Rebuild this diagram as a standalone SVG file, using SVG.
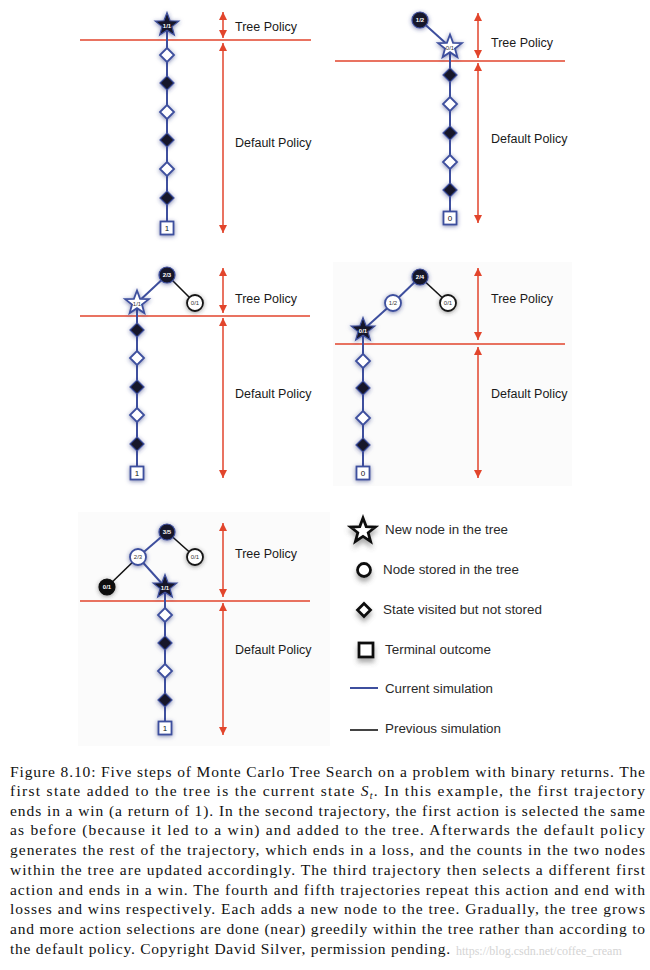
<svg xmlns="http://www.w3.org/2000/svg" width="650" height="970" viewBox="0 0 650 970">
<style>
.blue{stroke:#3e4f9e;stroke-width:2;fill:none}
.blk{stroke:#141414;stroke-width:1.6;fill:none}
.red{stroke:#e2452c;stroke-width:1.5;fill:none}
.redarr{stroke:#e2452c;stroke-width:1.5;fill:none;marker-start:url(#ah);marker-end:url(#ah)}
.nb{fill:#15152a;stroke:#3e4f9e;stroke-width:1.2;filter:url(#glow)}
.nk{fill:#111;stroke:#111;stroke-width:1.2;filter:url(#gglow)}
.nw{fill:#fff;stroke:#3e4f9e;stroke-width:1.8;filter:url(#glow)}
.nwk{fill:#fff;stroke:#141414;stroke-width:1.8;filter:url(#gglow)}
.lw{font-family:"Liberation Sans",Arial,sans-serif;font-size:6px;font-weight:bold;fill:#fff;text-anchor:middle}
.ld{font-family:"Liberation Sans",Arial,sans-serif;font-size:6px;fill:#333;text-anchor:middle}
.sq{font-family:"Liberation Sans",Arial,sans-serif;font-size:8px;fill:#111;text-anchor:middle}
.pol{font-family:"Liberation Sans",Arial,sans-serif;font-size:12.5px;fill:#1a1a1a}
.leg{font-family:"Liberation Sans",Arial,sans-serif;font-size:12.5px;fill:#2a2a2a}
.ls{fill:#fff;stroke:#111;stroke-width:2.8;filter:url(#lsh)}
.cap{font-family:"Liberation Serif","Times New Roman",serif;font-size:15.5px;fill:#111}
.wm{font-family:"Liberation Serif","Times New Roman",serif;font-size:12px;fill:#d4d4d4}
</style>
<defs>
<filter id="glow" x="-60%" y="-60%" width="220%" height="220%">
<feGaussianBlur in="SourceAlpha" stdDeviation="2"/>
<feOffset dy="1.2" result="b"/>
<feFlood flood-color="#2a3580" flood-opacity="0.6"/>
<feComposite in2="b" operator="in"/>
<feMerge><feMergeNode/><feMergeNode in="SourceGraphic"/></feMerge>
</filter>
<filter id="gglow" x="-60%" y="-60%" width="220%" height="220%">
<feGaussianBlur in="SourceAlpha" stdDeviation="2"/>
<feOffset dy="1.2" result="b"/>
<feFlood flood-color="#333" flood-opacity="0.5"/>
<feComposite in2="b" operator="in"/>
<feMerge><feMergeNode/><feMergeNode in="SourceGraphic"/></feMerge>
</filter>
<filter id="lsh" x="-80%" y="-80%" width="260%" height="300%">
<feGaussianBlur in="SourceAlpha" stdDeviation="2.5"/>
<feOffset dy="4" result="b"/>
<feFlood flood-color="#555" flood-opacity="0.5"/>
<feComposite in2="b" operator="in"/>
<feMerge><feMergeNode/><feMergeNode in="SourceGraphic"/></feMerge>
</filter>
<marker id="ah" viewBox="0 0 10 10" refX="10" refY="5" markerWidth="8" markerHeight="8" markerUnits="userSpaceOnUse" orient="auto-start-reverse">
<path d="M0,0 L10,5 L0,10 z" fill="#e2452c"/>
</marker>
<polygon id="star" points="0,-12.5 3.06,-4.21 11.89,-3.86 4.95,1.61 7.35,10.11 0,5.2 -7.35,10.11 -4.95,1.61 -11.89,-3.86 -3.06,-4.21"/>
<polygon id="lstar" points="0,-13 3.2,-4.4 12.4,-4 5.2,1.7 7.6,10.5 0,5.4 -7.6,10.5 -5.2,1.7 -12.4,-4 -3.2,-4.4"/>
<polygon id="dia" points="0,-7 7,0 0,7 -7,0"/>
<rect id="sqr" x="-6.5" y="-6.5" width="13" height="13"/>
</defs>
<rect width="650" height="970" fill="#fff"/>
<rect x="333" y="262" width="239" height="224" fill="#fbfbfb"/>
<rect x="78" y="512" width="252" height="234" fill="#fbfbfb"/>

<g id="policy-markers">
<line class="red" x1="80" y1="40" x2="311" y2="40"/>
<line class="redarr" x1="223" y1="12" x2="223" y2="38"/>
<line class="redarr" x1="223" y1="43" x2="223" y2="233"/>
<text class="pol" x="235" y="31">Tree Policy</text>
<text class="pol" x="235" y="147">Default Policy</text>

<line class="red" x1="335" y1="61" x2="565" y2="61"/>
<line class="redarr" x1="478" y1="13" x2="478" y2="58"/>
<line class="redarr" x1="478" y1="63" x2="478" y2="223"/>
<text class="pol" x="491" y="47">Tree Policy</text>
<text class="pol" x="491" y="143">Default Policy</text>

<line class="red" x1="80" y1="316" x2="310" y2="316"/>
<line class="redarr" x1="223" y1="268" x2="223" y2="313"/>
<line class="redarr" x1="223" y1="318" x2="223" y2="478"/>
<text class="pol" x="235" y="303">Tree Policy</text>
<text class="pol" x="235" y="398">Default Policy</text>

<line class="red" x1="335" y1="344" x2="565" y2="344"/>
<line class="redarr" x1="478" y1="268" x2="478" y2="340"/>
<line class="redarr" x1="478" y1="347" x2="478" y2="478"/>
<text class="pol" x="491" y="303">Tree Policy</text>
<text class="pol" x="491" y="398">Default Policy</text>

<line class="red" x1="80" y1="601" x2="310" y2="601"/>
<line class="redarr" x1="223" y1="523" x2="223" y2="597"/>
<line class="redarr" x1="223" y1="603" x2="223" y2="735"/>
<text class="pol" x="235" y="558">Tree Policy</text>
<text class="pol" x="235" y="654">Default Policy</text>
</g>

<g id="connectors">
<line class="blue" x1="167" y1="25" x2="167" y2="228"/>
<line class="blue" x1="420" y1="20" x2="450" y2="47"/>
<line class="blue" x1="450" y1="47" x2="450" y2="218"/>
<line class="blue" x1="167" y1="275" x2="137" y2="303"/>
<line class="blk" x1="167" y1="275" x2="195" y2="303"/>
<line class="blue" x1="137" y1="303" x2="137" y2="473"/>
<line class="blue" x1="420" y1="277" x2="393" y2="303"/>
<line class="blue" x1="393" y1="303" x2="363" y2="330"/>
<line class="blk" x1="420" y1="277" x2="448" y2="303"/>
<line class="blue" x1="363" y1="330" x2="363" y2="473"/>
<line class="blue" x1="167" y1="532" x2="138" y2="557"/>
<line class="blk" x1="167" y1="532" x2="195" y2="557"/>
<line class="blk" x1="138" y1="557" x2="107" y2="587"/>
<line class="blue" x1="138" y1="557" x2="165" y2="587"/>
<line class="blue" x1="165" y1="587" x2="165" y2="728"/>
</g>

<g id="p1-star"><use href="#star" class="nb" x="167" y="25"/><text class="lw" x="167" y="28">1/1</text></g>
<g id="p1-d1"><use href="#dia" class="nw" x="167" y="55"/></g>
<g id="p1-d2"><use href="#dia" class="nb" x="167" y="83"/></g>
<g id="p1-d3"><use href="#dia" class="nw" x="167" y="112"/></g>
<g id="p1-d4"><use href="#dia" class="nb" x="167" y="140"/></g>
<g id="p1-d5"><use href="#dia" class="nw" x="167" y="169"/></g>
<g id="p1-d6"><use href="#dia" class="nb" x="167" y="198"/></g>
<g id="p1-term"><use href="#sqr" class="nw" x="167" y="228"/><text class="sq" x="167" y="231">1</text></g>

<g id="p2-root"><circle class="nb" cx="420" cy="20" r="8"/><text class="lw" x="420" y="22">1/2</text></g>
<g id="p2-star"><use href="#star" class="nw" x="450" y="47"/><text class="ld" x="450" y="50">0/1</text></g>
<g id="p2-d1"><use href="#dia" class="nb" x="450" y="75"/></g>
<g id="p2-d2"><use href="#dia" class="nw" x="450" y="104"/></g>
<g id="p2-d3"><use href="#dia" class="nb" x="450" y="133"/></g>
<g id="p2-d4"><use href="#dia" class="nw" x="450" y="162"/></g>
<g id="p2-d5"><use href="#dia" class="nb" x="450" y="190"/></g>
<g id="p2-term"><use href="#sqr" class="nw" x="450" y="218"/><text class="sq" x="450" y="221">0</text></g>

<g id="p3-root"><circle class="nb" cx="167" cy="275" r="8"/><text class="lw" x="167" y="277">2/3</text></g>
<g id="p3-star"><use href="#star" class="nw" x="137" y="303"/><text class="ld" x="137" y="306">1/1</text></g>
<g id="p3-right"><circle class="nwk" cx="195" cy="303" r="8"/><text class="ld" x="195" y="305">0/1</text></g>
<g id="p3-d1"><use href="#dia" class="nb" x="137" y="330"/></g>
<g id="p3-d2"><use href="#dia" class="nw" x="137" y="358"/></g>
<g id="p3-d3"><use href="#dia" class="nb" x="137" y="387"/></g>
<g id="p3-d4"><use href="#dia" class="nw" x="137" y="415"/></g>
<g id="p3-d5"><use href="#dia" class="nb" x="137" y="444"/></g>
<g id="p3-term"><use href="#sqr" class="nw" x="137" y="473"/><text class="sq" x="137" y="476">1</text></g>

<g id="p4-root"><circle class="nb" cx="420" cy="277" r="8"/><text class="lw" x="420" y="279">2/4</text></g>
<g id="p4-left"><circle class="nw" cx="393" cy="303" r="8"/><text class="ld" x="393" y="305">1/2</text></g>
<g id="p4-right"><circle class="nwk" cx="448" cy="303" r="8"/><text class="ld" x="448" y="305">0/1</text></g>
<g id="p4-star"><use href="#star" class="nb" x="363" y="330"/><text class="lw" x="363" y="333">0/1</text></g>
<g id="p4-d1"><use href="#dia" class="nw" x="363" y="361"/></g>
<g id="p4-d2"><use href="#dia" class="nb" x="363" y="388"/></g>
<g id="p4-d3"><use href="#dia" class="nw" x="363" y="418"/></g>
<g id="p4-d4"><use href="#dia" class="nb" x="363" y="445"/></g>
<g id="p4-term"><use href="#sqr" class="nw" x="363" y="473"/><text class="sq" x="363" y="476">0</text></g>

<g id="p5-root"><circle class="nb" cx="167" cy="532" r="8"/><text class="lw" x="167" y="534">3/5</text></g>
<g id="p5-mid"><circle class="nw" cx="138" cy="557" r="8"/><text class="ld" x="138" y="559">2/3</text></g>
<g id="p5-right"><circle class="nwk" cx="195" cy="557" r="8"/><text class="ld" x="195" y="559">0/1</text></g>
<g id="p5-leftleaf"><circle class="nk" cx="107" cy="587" r="8"/><text class="lw" x="107" y="589">0/1</text></g>
<g id="p5-star"><use href="#star" class="nb" x="165" y="587"/><text class="lw" x="165" y="590">1/1</text></g>
<g id="p5-d1"><use href="#dia" class="nw" x="165" y="615"/></g>
<g id="p5-d2"><use href="#dia" class="nb" x="165" y="643"/></g>
<g id="p5-d3"><use href="#dia" class="nw" x="165" y="671"/></g>
<g id="p5-d4"><use href="#dia" class="nb" x="165" y="700"/></g>
<g id="p5-term"><use href="#sqr" class="nw" x="165" y="728"/><text class="sq" x="165" y="731">1</text></g>

<g id="legend">
<use href="#lstar" class="ls" x="363" y="531"/>
<text class="leg" x="385" y="534" textLength="123" lengthAdjust="spacingAndGlyphs">New node in the tree</text>
<circle class="ls" cx="364" cy="570" r="6.5"/>
<text class="leg" x="383" y="574" textLength="136" lengthAdjust="spacingAndGlyphs">Node stored in the tree</text>
<polygon class="ls" points="364,603.5 370.5,610 364,616.5 357.5,610"/>
<text class="leg" x="383" y="614" textLength="159" lengthAdjust="spacingAndGlyphs">State visited but not stored</text>
<rect class="ls" x="359" y="643" width="14" height="14"/>
<text class="leg" x="385" y="654" textLength="106" lengthAdjust="spacingAndGlyphs">Terminal outcome</text>
<line class="blue" x1="350" y1="688" x2="378" y2="688"/>
<text class="leg" x="385" y="693" textLength="108" lengthAdjust="spacingAndGlyphs">Current simulation</text>
<line class="blk" x1="350" y1="730" x2="378" y2="730" stroke-width="2"/>
<text class="leg" x="385" y="733" textLength="116" lengthAdjust="spacingAndGlyphs">Previous simulation</text>
</g>

<g id="caption">
<text class="cap" x="10" y="777" textLength="635" lengthAdjust="spacing">Figure 8.10: Five steps of Monte Carlo Tree Search on a problem with binary returns. The</text>
<text class="cap" x="10" y="796" textLength="635" lengthAdjust="spacing">first state added to the tree is the current state <tspan font-style="italic">S</tspan><tspan font-style="italic" font-size="10" dy="3">t</tspan><tspan dy="-3">.  In this example, the first trajectory</tspan></text>
<text class="cap" x="10" y="816" textLength="635" lengthAdjust="spacing">ends in a win (a return of 1). In the second trajectory, the first action is selected the same</text>
<text class="cap" x="10" y="835" textLength="635" lengthAdjust="spacing">as before (because it led to a win) and added to the tree.  Afterwards the default policy</text>
<text class="cap" x="10" y="855" textLength="635" lengthAdjust="spacing">generates the rest of the trajectory, which ends in a loss, and the counts in the two nodes</text>
<text class="cap" x="10" y="875" textLength="635" lengthAdjust="spacing">within the tree are updated accordingly. The third trajectory then selects a different first</text>
<text class="cap" x="10" y="895" textLength="635" lengthAdjust="spacing">action and ends in a win. The fourth and fifth trajectories repeat this action and end with</text>
<text class="cap" x="10" y="914" textLength="635" lengthAdjust="spacing">losses and wins respectively. Each adds a new node to the tree. Gradually, the tree grows</text>
<text class="cap" x="10" y="934" textLength="635" lengthAdjust="spacing">and more action selections are done (near) greedily within the tree rather than according to</text>
<text class="cap" x="10" y="954" textLength="440" lengthAdjust="spacing">the default policy. Copyright David Silver, permission pending.</text>
<text class="wm" x="456" y="955">https://blog.csdn.net/coffee_cream</text>
</g>
</svg>
